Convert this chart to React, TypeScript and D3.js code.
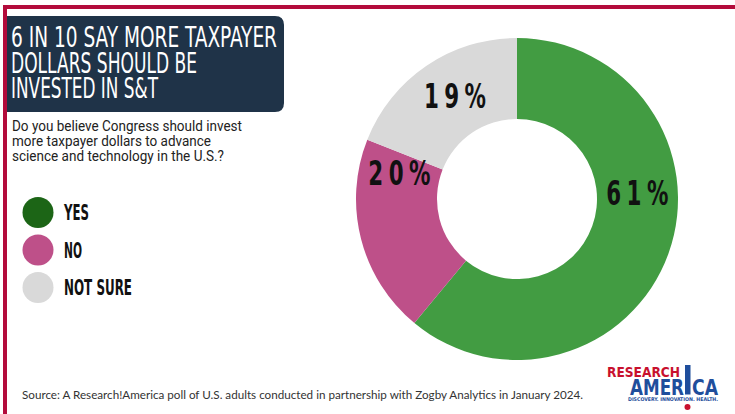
import React from "react";
import * as d3 from "d3";

const categories = ["YES", "NO", "NOT SURE"];
const values = [61, 20, 19];
const sliceColors = ["#429C42", "#BE5089", "#D9D9D9"];
const legendColors = ["#1C6516", "#BE5089", "#D9D9D9"];
const labelFractions = [0.396, 0.874, 0.547];
const titleLines = ["6 IN 10 SAY MORE TAXPAYER", "DOLLARS SHOULD BE", "INVESTED IN S&T"];
const titleWidths = [266, 186, 147];
const questionLines = [
  "Do you believe Congress should invest",
  "more taxpayer dollars to advance",
  "science and technology in the U.S.?",
];
const questionWidths = [230, 199, 212];
const legendWidths = [25, 18, 68];
const sourceText =
  "Source:  A Research!America poll of U.S. adults conducted in partnership with Zogby Analytics in January 2024.";

const W = 735;
const H = 414;

export default function App() {
  const cx = 517;
  const cy = 199;
  const rOuter = 161;
  const rInner = 80;
  const data = categories.map((c, i) => ({ cat: c, value: values[i] }));
  const pie = d3.pie<any>().sort(null).value((d) => d.value);
  const arcs = pie(data);
  const arc = d3.arc<any>().innerRadius(rInner).outerRadius(rOuter);
  const rMid = (rInner + rOuter) / 2;

  const legendY = d3.scalePoint<string>().domain(categories).range([212.5, 287.5]);

  const titleX = 11;
  const titleY = d3.scaleLinear().domain([0, 2]).range([47, 98]);
  const qY = d3.scaleLinear().domain([0, 2]).range([131, 161]);

  const condensed = "'DejaVu Sans Condensed', 'Liberation Sans Narrow', 'DejaVu Sans', sans-serif";
  const sx = 0.7;

  return (
    <svg
      width={W}
      height={H}
      style={{ position: "fixed", left: 0, top: 0, display: "block", background: "#fff" }}
    >
      <rect x={0} y={0} width={W} height={H} fill="#fff" />
      {/* red frame */}
      <rect x={3} y={5} width={W - 3} height={4} fill="#B30B3B" />
      <rect x={3} y={5} width={4} height={H - 5} fill="#B30B3B" />

      {/* title box */}
      <path d={`M7,16 H275 Q284,16 284,25 V103 Q284,112 275,112 H7 Z`} fill="#1F3348" />
      {titleLines.map((t, i) => (
        <text
          key={t}
          x={titleX}
          y={titleY(i)}
          fill="#fff"
          fontFamily={condensed}
          fontSize={28.5}
          textLength={titleWidths[i]}
          lengthAdjust="spacingAndGlyphs"
        >
          {t}
        </text>
      ))}

      {/* question */}
      {questionLines.map((t, i) => (
        <text
          key={t}
          x={12}
          y={qY(i)}
          fill="#222"
          fontFamily="Roboto, sans-serif"
          fontSize={14}
          textLength={questionWidths[i]}
          lengthAdjust="spacingAndGlyphs"
        >
          {t}
        </text>
      ))}

      {/* legend */}
      {categories.map((c, i) => (
        <g key={c}>
          <circle cx={38} cy={legendY(c)} r={15.5} fill={legendColors[i]} />
          <text
            x={64}
            y={(legendY(c) as number) + 7.5}
            fill="#111"
            fontFamily={condensed}
            fontWeight="bold"
            fontSize={20.5}
            textLength={legendWidths[i]}
            lengthAdjust="spacingAndGlyphs"
          >
            {c}
          </text>
        </g>
      ))}

      {/* donut */}
      <g transform={`translate(${cx},${cy})`}>
        {arcs.map((a, i) => (
          <path key={a.data.cat} d={arc(a) as string} fill={sliceColors[i]} />
        ))}
        {arcs.map((a, i) => {
          const ang = a.startAngle + (a.endAngle - a.startAngle) * labelFractions[i];
          const x = rMid * Math.sin(ang);
          const y = -rMid * Math.cos(ang);
          return (
            <g key={"l" + a.data.cat} transform={`translate(${x},${y + 12.5}) scale(${sx},1)`}>
              <text
                x={0}
                y={0}
                textAnchor="middle"
                fill="#111"
                fontFamily={condensed}
                fontWeight="bold"
                fontSize={34}
                textLength={62 / sx}
                lengthAdjust="spacing"
              >
                {a.data.value + "%"}
              </text>
            </g>
          );
        })}
      </g>

      {/* source */}
      <text
        x={22}
        y={399}
        fill="#333"
        fontFamily="Lato, sans-serif"
        fontSize={12}
        textLength={561}
        lengthAdjust="spacingAndGlyphs"
      >
        {sourceText}
      </text>

      {/* logo */}
      <text
        x={607}
        y={377}
        fill="#C8102E"
        fontFamily={condensed}
        fontWeight="bold"
        fontSize={14}
        textLength={73}
        lengthAdjust="spacingAndGlyphs"
      >
        RESEARCH
      </text>
      <text
        x={630}
        y={394.5}
        fill="#1F4E9C"
        fontFamily={condensed}
        fontWeight="bold"
        fontSize={22}
        textLength={54}
        lengthAdjust="spacingAndGlyphs"
      >
        AMER
      </text>
      <rect x={685} y={365} width={5.5} height={29.5} fill="#1F4E9C" />
      <text
        x={692}
        y={394.5}
        fill="#1F4E9C"
        fontFamily={condensed}
        fontWeight="bold"
        fontSize={22}
        textLength={26}
        lengthAdjust="spacingAndGlyphs"
      >
        CA
      </text>
      <text
        x={628}
        y={401}
        fill="#1F4E9C"
        fontFamily={condensed}
        fontWeight="bold"
        fontSize={5}
        textLength={90}
        lengthAdjust="spacingAndGlyphs"
      >
        DISCOVERY. INNOVATION. HEALTH.
      </text>
      <circle cx={687.5} cy={407} r={3} fill="#C8102E" />
    </svg>
  );
}
